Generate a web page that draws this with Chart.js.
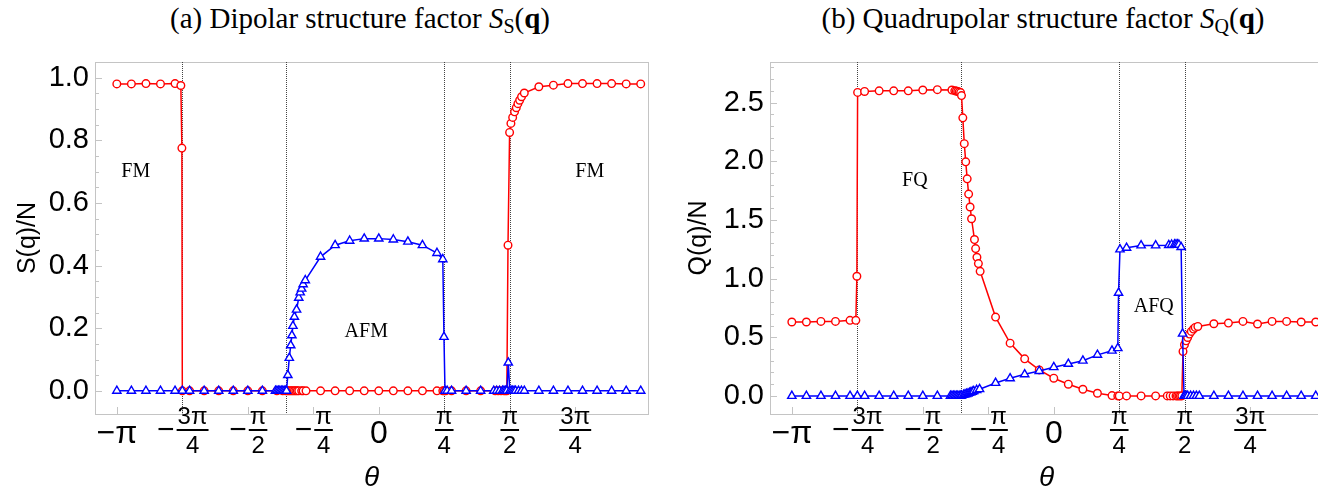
<!DOCTYPE html>
<html>
<head>
<meta charset="utf-8">
<script src="https://cdn.jsdelivr.net/npm/chart.js@4"></script>
<style>
  html, body { margin: 0; padding: 0; background: #fff; }
  #wrap { position: relative; width: 1318px; height: 491px; overflow: hidden; }
  canvas { position: absolute; top: 0; }
  .ttl { position: absolute; top: 2px; font: 29px "Liberation Serif", serif; color: #000; white-space: nowrap; transform: translateX(-50%); }
  .ttl sub { font-size: 20px; font-style: normal; vertical-align: -5px; }
</style>
</head>
<body>
<div id="wrap">
  <div class="ttl" style="left:360px">(a) Dipolar structure factor <i>S</i><sub>S</sub>(<b>q</b>)</div>
  <div class="ttl" style="left:1043px">(b) Quadrupolar structure factor <i>S</i><sub>Q</sub>(<b>q</b>)</div>
  <canvas id="dip" width="659" height="491" style="left:0"></canvas>
  <canvas id="quad" width="670" height="491" style="left:660px"></canvas>
</div>
<script>
// theta in degrees; ticks are labelled as fractions of pi
const xTickDeg = [-180, -135, -90, -45, 0, 45, 90, 135];
const xTickLabels = ['−π', '−3π/4', '−π/2', '−π/4', '0', 'π/4', 'π/2', '3π/4'];
const transitions = [-135, -63.43, 45, 90];

// (a) dipolar, S(q)/N
const sRedTheta = [-180, -170, -160, -150, -140, -136, -135.3, -135, -130, -120, -110, -100, -90, -80, -70, -66, -64, -63, -62, -61, -60, -59, -58, -57, -56, -55, -53, -52, -50, -40, -30, -20, -10, 0, 10, 20, 30, 40, 44, 45, 46, 50, 60, 70, 80, 82, 84, 86, 87, 88, 88.8, 89.9, 90.8, 92, 93.3, 94.5, 95.6, 96.8, 98.1, 100, 110, 120, 130, 140, 150, 160, 170, 180];
const sRedVal = [0.980, 0.980, 0.981, 0.980, 0.981, 0.975, 0.775, 0, 0, 0, 0, 0, 0, 0, 0, 0, 0, 0, 0, 0, 0, 0, 0, 0, 0, 0, 0, 0, 0, 0, 0, 0, 0, 0, 0, 0, 0, 0, 0, 0, 0, 0, 0, 0, 0, 0, 0, 0, 0, 0, 0.465, 0.825, 0.854, 0.873, 0.891, 0.904, 0.917, 0.928, 0.939, 0.951, 0.971, 0.976, 0.981, 0.981, 0.981, 0.981, 0.980, 0.980];
const sBlueTheta = [-180, -170, -160, -150, -140, -135, -130, -120, -110, -100, -90, -80, -71, -70, -69, -68, -67, -66, -65, -64, -63.4, -62.5, -61.5, -60.5, -59.7, -59, -58, -56.5, -55, -54, -53, -52, -50.5, -40, -30, -20, -10, 0, 10, 20, 30, 40, 44, 44.8, 45.5, 47, 50, 60, 70, 79, 81, 83, 85, 86, 87, 88, 89, 90, 91, 92, 93, 94, 96, 98, 100, 110, 120, 130, 140, 150, 160, 170, 180];
const sBlueVal = [0, 0, 0, 0, 0, 0, 0, 0, 0, 0, 0, 0, 0, 0, 0, 0, 0, 0, 0, 0, 0, 0.050, 0.105, 0.145, 0.177, 0.207, 0.236, 0.259, 0.297, 0.314, 0.326, 0.340, 0.353, 0.428, 0.465, 0.479, 0.486, 0.486, 0.483, 0.476, 0.465, 0.440, 0.420, 0.172, 0, 0, 0, 0, 0, 0, 0, 0, 0, 0, 0, 0, 0.090, 0, 0, 0, 0, 0, 0, 0, 0, 0, 0, 0, 0, 0, 0, 0, 0];
const sYMajor = [0, 0.2, 0.4, 0.6, 0.8, 1.0];
const sYMinor = [0.05, 0.1, 0.15, 0.25, 0.3, 0.35, 0.45, 0.5, 0.55, 0.65, 0.7, 0.75, 0.85, 0.9, 0.95, 1.05];
const sNoteText = ['FM', 'AFM', 'FM'];
const sNoteTheta = [-167, -8.6, 145];
const sNoteVal = [0.70, 0.19, 0.70];

// (b) quadrupolar, Q(q)/N
const qRedTheta = [-180, -170, -160, -150, -140, -136, -135.3, -134.8, -130, -120, -110, -100, -90, -80, -70, -68, -67, -66, -65, -64, -63.4, -62.5, -61.5, -60.5, -59.5, -58.5, -57.5, -56.5, -54.5, -53.7, -52.8, -51.8, -50.6, -40, -30, -20, -10, 0, 10, 20, 30, 40, 44, 45, 50, 60, 70, 78, 80, 82, 84, 85, 86, 87, 88, 88.8, 89.8, 90.9, 92, 93.2, 94.5, 96, 97.2, 99, 110, 120, 130, 140, 150, 160, 170, 180];
const qRedVal = [0.630, 0.630, 0.635, 0.635, 0.644, 0.644, 1.02, 2.587, 2.595, 2.600, 2.600, 2.600, 2.607, 2.610, 2.607, 2.600, 2.598, 2.595, 2.590, 2.585, 2.560, 2.370, 2.150, 1.995, 1.850, 1.720, 1.610, 1.510, 1.333, 1.256, 1.182, 1.128, 1.062, 0.672, 0.450, 0.316, 0.222, 0.151, 0.100, 0.057, 0.023, 0.003, 0, 0, 0, 0, 0, 0, 0, 0, 0, 0, 0, 0, 0, 0.379, 0.436, 0.470, 0.498, 0.527, 0.550, 0.570, 0.584, 0.592, 0.615, 0.621, 0.635, 0.613, 0.635, 0.635, 0.630, 0.630];
const qBlueTheta = [-180, -170, -160, -150, -140, -135, -130, -120, -110, -100, -90, -80, -71, -70, -69, -68, -67, -66, -65, -64, -63.4, -62, -61, -60, -59, -58, -57, -56, -55, -53, -51, -40, -30, -20, -10, 0, 10, 20, 30, 40, 44, 44.5, 45.5, 50, 60, 70, 79, 81, 83, 84, 85, 86, 87.5, 88.5, 89.5, 90, 91, 92, 94, 96, 98, 100, 110, 120, 130, 140, 150, 160, 170, 180];
const qBlueVal = [0, 0, 0, 0, 0, 0, 0, 0, 0, 0, 0, 0, 0, 0, 0, 0, 0, 0, 0, 0, 0.003, 0.008, 0.012, 0.016, 0.020, 0.025, 0.030, 0.035, 0.040, 0.050, 0.057, 0.110, 0.150, 0.184, 0.212, 0.245, 0.273, 0.300, 0.350, 0.385, 0.407, 0.878, 1.248, 1.262, 1.282, 1.282, 1.285, 1.288, 1.290, 1.290, 1.290, 1.288, 1.268, 0.530, 0, 0, 0, 0, 0, 0, 0, 0, 0, 0, 0, 0, 0, 0, 0, 0];
const qYMajor = [0, 0.5, 1.0, 1.5, 2.0, 2.5];
const qYMinor = [0.1, 0.2, 0.3, 0.4, 0.6, 0.7, 0.8, 0.9, 1.1, 1.2, 1.3, 1.4, 1.6, 1.7, 1.8, 1.9, 2.1, 2.2, 2.3, 2.4, 2.6, 2.7, 2.8];
const qNoteText = ['FQ', 'AFQ'];
const qNoteTheta = [-95.5, 68.7];
const qNoteVal = [1.83, 0.763];

const SANS = '"Liberation Sans", Arial, sans-serif';
const SERIF = '"Liberation Serif", "Times New Roman", serif';

function pts(xs, ys) { return xs.map((x, i) => ({ x: x, y: ys[i] })); }

// frame, inward ticks, dotted transition lines, text labels, pi-fraction x labels
const decor = {
  id: 'decor',
  beforeDatasetsDraw(chart, args, o) {
    const { ctx, chartArea: a, scales: { x, y } } = chart;
    ctx.save();
    ctx.strokeStyle = '#c4c4c4';
    ctx.lineWidth = 1;
    ctx.strokeRect(a.left + 0.5, a.top + 0.5, a.right - a.left, a.bottom - a.top);
    ctx.beginPath();
    o.yMajor.forEach(v => { const p = Math.round(y.getPixelForValue(v)) + 0.5; ctx.moveTo(a.left, p); ctx.lineTo(a.left + 7, p); });
    o.yMinor.forEach(v => { const p = Math.round(y.getPixelForValue(v)) + 0.5; ctx.moveTo(a.left, p); ctx.lineTo(a.left + 4, p); });
    xTickDeg.forEach(v => { const p = Math.round(x.getPixelForValue(v)) + 0.5; ctx.moveTo(p, a.bottom); ctx.lineTo(p, a.bottom - 7); });
    ctx.stroke();
    ctx.strokeStyle = '#444';
    ctx.setLineDash([1, 1]);
    ctx.beginPath();
    transitions.forEach(v => { const p = Math.round(x.getPixelForValue(v)) + 0.5; ctx.moveTo(p, a.top); ctx.lineTo(p, a.bottom); });
    ctx.stroke();
    ctx.restore();
  },
  afterDraw(chart, args, o) {
    const { ctx, scales: { x, y } } = chart;
    ctx.save();
    ctx.fillStyle = '#000';
    ctx.textBaseline = 'middle';
    ctx.textAlign = 'center';
    ctx.font = '20px ' + SERIF;
    o.notes.forEach((t, i) => ctx.fillText(t, x.getPixelForValue(o.noteX[i]), y.getPixelForValue(o.noteY[i])));
    xTickDeg.forEach((d, i) => {
      const px = x.getPixelForValue(d);
      const lab = xTickLabels[i];
      if (!lab.includes('/')) {
        ctx.font = '32px ' + SANS;
        ctx.textAlign = 'center';
        ctx.fillText(lab, px, 434);
        return;
      }
      let [top, den] = lab.split('/');
      const minus = top.startsWith('−');
      if (minus) top = top.slice(1);
      ctx.font = '24px ' + SANS;
      const fw = Math.max(ctx.measureText(top).width, ctx.measureText(den).width);
      ctx.font = '30px ' + SANS;
      const mw = minus ? ctx.measureText('−').width + 3 : 0;
      const left = px - (mw + fw) / 2;
      if (minus) { ctx.textAlign = 'left'; ctx.fillText('−', left, 431); }
      const cx = left + mw + fw / 2;
      ctx.font = '24px ' + SANS;
      ctx.textAlign = 'center';
      ctx.fillText(top, cx, 417);
      ctx.fillText(den, cx, 446);
      ctx.fillRect(cx - fw / 2 - 1, 429, fw + 2, 2);
    });
    ctx.restore();
  }
};

function makeChart(id, redX, redY, blueX, blueY, yMin, yMax, yMajor, yMinor, yTitle, yAxisW, titlePad, padRight, notes, noteX, noteY) {
  return new Chart(document.getElementById(id), {
    type: 'scatter',
    data: {
      datasets: [
        { data: pts(blueX, blueY), order: 0, showLine: true, borderColor: '#0000ff', borderWidth: 1.5,
          pointStyle: 'triangle', pointRadius: 4.8, pointBorderWidth: 1.4, pointBackgroundColor: '#fff', pointBorderColor: '#0000ff' },
        { data: pts(redX, redY), order: 1, showLine: true, borderColor: '#ff0000', borderWidth: 1.5,
          pointStyle: 'circle', pointRadius: 3.8, pointBorderWidth: 1.4, pointBackgroundColor: '#fff', pointBorderColor: '#ff0000' }
      ]
    },
    options: {
      responsive: false,
      animation: false,
      devicePixelRatio: 1,
      layout: { padding: { top: 62, right: padRight, left: 0, bottom: 0 } },
      plugins: {
        legend: { display: false },
        tooltip: { enabled: false },
        decor: { yMajor: yMajor, yMinor: yMinor, notes: notes, noteX: noteX, noteY: noteY }
      },
      scales: {
        x: {
          type: 'linear', min: -195, max: 185,
          grid: { display: false }, border: { display: false },
          ticks: { display: false },
          title: { display: true, text: 'θ', color: '#000', padding: 0,
                   font: { family: SANS, size: 28, style: 'italic', lineHeight: 0.9 } },
          afterFit(s) { s.height = 77; }
        },
        y: {
          min: yMin, max: yMax,
          grid: { display: false, drawTicks: false }, border: { display: false },
          afterBuildTicks(s) { s.ticks = yMajor.map(v => ({ value: v })); },
          ticks: { color: '#000', padding: 6, font: { family: SANS, size: 29 }, callback: v => v.toFixed(1) },
          title: { display: true, text: yTitle, color: '#000', padding: { top: titlePad, bottom: 0 },
                   font: { family: SANS, size: 25 } },
          afterFit(s) { s.width = yAxisW; }
        }
      }
    },
    plugins: [decor]
  });
}

makeChart('dip', sRedTheta, sRedVal, sBlueTheta, sBlueVal, -0.074, 1.05, sYMajor, sYMinor, 'S(q)/N', 95, 13, 11, sNoteText, sNoteTheta, sNoteVal);
makeChart('quad', qRedTheta, qRedVal, qBlueTheta, qBlueVal, -0.154, 2.846, qYMajor, qYMinor, 'Q(q)/N', 110, 24, 7, qNoteText, qNoteTheta, qNoteVal);
</script>
</body>
</html>
